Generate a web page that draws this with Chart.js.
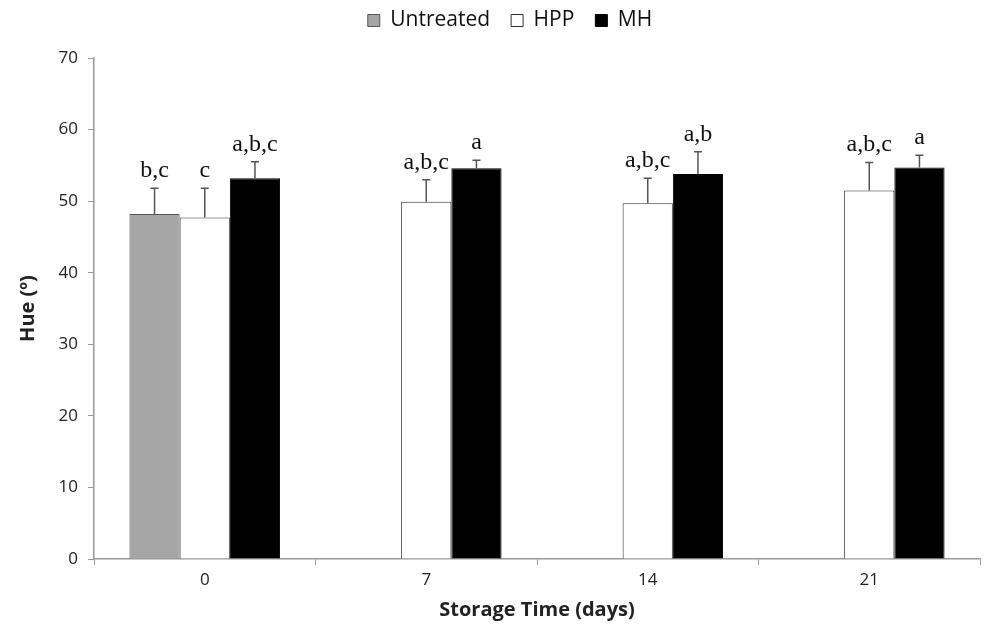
<!DOCTYPE html>
<html lang="en">
<head>
  <meta charset="UTF-8" />
  <title>Hue vs Storage Time</title>
  <script src="https://cdn.jsdelivr.net/npm/chart.js"></script>
  <style>
    * { margin: 0; padding: 0; box-sizing: border-box; }
    body { background: #fff; width: 993px; height: 630px; overflow: hidden; }
    #wrap { position: relative; width: 993px; height: 630px; }
  </style>
</head>
<body>
  <div id="wrap"><canvas id="hueChart"></canvas></div>

  <script>
    // data
    const days = ['0', '7', '14', '21'];
    const untreated = [48.2, null, null, null];
    const hpp = [47.7, 49.9, 49.7, 51.5];
    const mh = [53.2, 54.6, 53.8, 54.7];
    const untreatedSd = [3.6, null, null, null];
    const hppSd = [4.1, 3.1, 3.5, 3.9];
    const mhSd = [2.3, 1.1, 3.1, 1.7];
    const untreatedLetters = ['b,c', '', '', ''];
    const hppLetters = ['c', 'a,b,c', 'a,b,c', 'a,b,c'];
    const mhLetters = ['a,b,c', 'a', 'a,b', 'a'];

    const sds = [untreatedSd, hppSd, mhSd];
    const letters = [untreatedLetters, hppLetters, mhLetters];

    // upward error bars + significance letters
    const errorBars = {
      id: 'errorBars',
      afterDatasetsDraw(chart) {
        const ctx = chart.ctx;
        const y = chart.scales.y;
        chart.data.datasets.forEach((ds, di) => {
          const meta = chart.getDatasetMeta(di);
          meta.data.forEach((bar, i) => {
            const v = ds.data[i];
            if (v == null) return;
            const top = y.getPixelForValue(v + sds[di][i]);
            const base = y.getPixelForValue(v);
            ctx.save();
            ctx.strokeStyle = '#555';
            ctx.lineWidth = 1.5;
            ctx.beginPath();
            ctx.moveTo(bar.x, base);
            ctx.lineTo(bar.x, top);
            ctx.moveTo(bar.x - 4, top);
            ctx.lineTo(bar.x + 4, top);
            ctx.stroke();
            ctx.fillStyle = '#111';
            ctx.font = '24px "Liberation Serif", serif';
            ctx.textAlign = 'center';
            ctx.textBaseline = 'alphabetic';
            ctx.fillText(letters[di][i], bar.x, top - 11);
            ctx.restore();
          });
        });
      }
    };

    // fixed legend height, and nudge the legend a bit to the right
    const legendTweak = {
      id: 'legendTweak',
      beforeInit(chart) {
        const fit = chart.legend.fit;
        chart.legend.fit = function () {
          fit.bind(chart.legend)();
          this.height = 69;
        };
      },
      afterLayout(chart) {
        chart.legend.left += 20;
        chart.legend.right += 20;
      }
    };

    new Chart(document.getElementById('hueChart'), {
      type: 'bar',
      data: {
        labels: days,
        datasets: [
          { label: 'Untreated', data: untreated, backgroundColor: '#a5a5a5', borderColor: '#555', borderWidth: 1 },
          { label: 'HPP', data: hpp, backgroundColor: '#fff', borderColor: '#333', borderWidth: 1 },
          { label: 'MH', data: mh, backgroundColor: '#000', borderColor: '#000', borderWidth: 1 }
        ]
      },
      options: {
        responsive: true,
        maintainAspectRatio: false,
        animation: false,
        datasets: { bar: { categoryPercentage: 0.68, barPercentage: 1 } },
        layout: { padding: { left: 0, right: 13, top: -11, bottom: 0 } },
        plugins: {
          legend: {
            position: 'top',
            labels: {
              boxWidth: 12,
              boxHeight: 12,
              padding: 21,
              color: '#111',
              font: { family: '"Open Sans", sans-serif', size: 21 }
            }
          },
          tooltip: { enabled: false }
        },
        scales: {
          x: {
            grid: { drawOnChartArea: false, color: '#999', tickLength: 6, offset: true },
            border: { color: '#999', width: 1.5 },
            ticks: { color: '#222', padding: 5, font: { family: '"Open Sans", sans-serif', size: 17 } },
            title: {
              display: true,
              text: 'Storage Time (days)',
              color: '#222',
              padding: { top: 4, bottom: 8 },
              font: { family: '"Open Sans", sans-serif', size: 20, weight: 'bold' }
            },
            afterFit(scale) { scale.height = 71; }
          },
          y: {
            min: 0,
            max: 70,
            ticks: { stepSize: 10, color: '#222', padding: 10, font: { family: '"Open Sans", sans-serif', size: 17 } },
            grid: { drawOnChartArea: false, color: '#999', tickLength: 6 },
            border: { color: '#999', width: 1.5 },
            title: {
              display: true,
              text: 'Hue (º)',
              color: '#222',
              padding: { top: 16, bottom: 10 },
              font: { family: '"Open Sans", sans-serif', size: 20, weight: 'bold' }
            },
            afterFit(scale) { scale.width = 94; }
          }
        }
      },
      plugins: [errorBars, legendTweak]
    });
  </script>
</body>
</html>
